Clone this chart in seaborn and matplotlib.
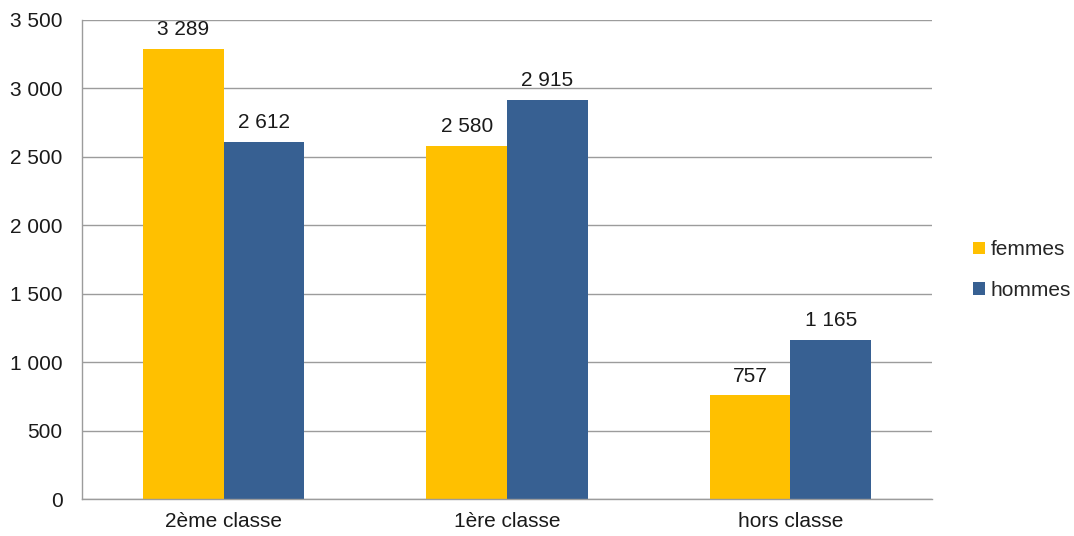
import matplotlib
matplotlib.use("Agg")
import matplotlib.pyplot as plt
import seaborn as sns
import pandas as pd
from matplotlib.ticker import FixedLocator, FuncFormatter
from matplotlib.patches import Patch

categories = ["2ème classe", "1ère classe", "hors classe"]
series = ["femmes", "hommes"]
femmes = [3289, 2580, 757]
hommes = [2612, 2915, 1165]
colors = ["#FFC000", "#376092"]

df = pd.DataFrame({
    "classe": categories * 2,
    "sexe": [series[0]] * 3 + [series[1]] * 3,
    "effectif": femmes + hommes,
})

sns.set_theme(style="white")
plt.rcParams["font.family"] = ["Liberation Sans", "DejaVu Sans"]

fig = plt.figure(figsize=(10.74, 5.36), dpi=100)
ax = fig.add_axes([0.0764, 0.069, 0.7914, 0.8937])

sns.barplot(data=df, x="classe", y="effectif", hue="sexe", order=categories,
            hue_order=series, palette=colors, width=0.57, saturation=1,
            errorbar=None, ax=ax, legend=False, linewidth=0)

ax.set_xlim(-0.5, 2.5)
ax.set_ylim(0, 3500)
ax.set_xlabel("")
ax.set_ylabel("")

fs = 15
txt_c = "#1a1a1a"
grid_c = "#9c9c9c"
ax.yaxis.set_major_locator(FixedLocator(range(0, 3501, 500)))
ax.yaxis.set_major_formatter(FuncFormatter(lambda v, p: f"{int(v):,}".replace(",", " ")))
ax.grid(axis="y", color=grid_c, linewidth=1)
ax.set_axisbelow(True)

for s in ["top", "right"]:
    ax.spines[s].set_visible(False)
for s in ["left", "bottom"]:
    ax.spines[s].set_color(grid_c)
    ax.spines[s].set_linewidth(1)

ax.set_xticks(range(len(categories)))
ax.set_xticklabels(categories)
ax.tick_params(axis="x", length=0, labelsize=fs, colors=txt_c, pad=9)
ax.xaxis.set_minor_locator(FixedLocator([-0.5, 0.5, 1.5, 2.5]))
ax.tick_params(axis="x", which="minor", length=5, color=grid_c, width=1, direction="out")
ax.tick_params(axis="y", length=5, color=grid_c, width=1, labelsize=fs,
               labelcolor=txt_c, pad=9, direction="out")

for cont in ax.containers:
    labels = [f"{int(b.get_height()):,}".replace(",", " ") for b in cont]
    ax.bar_label(cont, labels=labels, padding=7, fontsize=fs, color=txt_c)

handles = [Patch(facecolor=c, edgecolor="none") for c in colors]
fig.legend(handles, series, loc="center left", bbox_to_anchor=(0.906, 0.496),
           frameon=False, fontsize=fs, handlelength=0.55, handleheight=0.55,
           handletextpad=0.3, labelspacing=1.05, borderpad=0, borderaxespad=0)

fig.savefig("out.png", dpi=100)
